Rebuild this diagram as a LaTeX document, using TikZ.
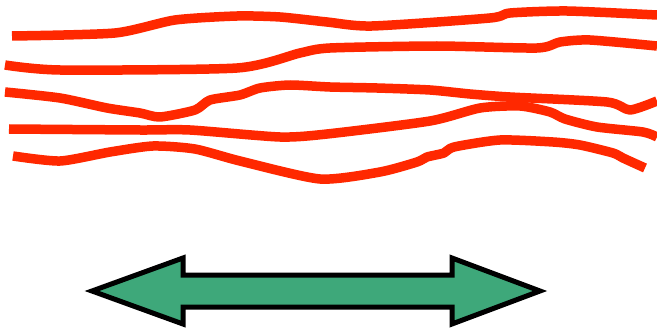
\documentclass[tikz,border=0pt]{standalone}
\definecolor{strokered}{RGB}{255,40,0}
\definecolor{arrowgreen}{RGB}{62,168,122}
\tikzset{
  wave/.style={draw=strokered, line width=9.5pt, line cap=butt, line join=round},
  dblarrow/.style={draw=black, fill=arrowgreen, line width=5pt, line join=miter}
}
\begin{document}
\begin{tikzpicture}[x=1pt,y=-1pt]
\useasboundingbox (0,0) rectangle (657,329);
% line 1
\draw[wave] plot[smooth, tension=0.4] coordinates {(12,36) (115,33) (175,20) (237,16) (280,17) (327,22) (372,26) (490,18) (510,13) (567,11) (657,15)};
% line 2
\draw[wave] plot[smooth, tension=0.4] coordinates {(5,65) (60,70) (237,68) (300,53) (330,48) (437,46) (537,48) (560,42) (590,40) (657,46)};
% line 3
\draw[wave] plot[smooth, tension=0.4] coordinates {(5,92) (60,98) (107,108) (140,113) (160,117) (195,110) (210,100) (240,95) (260,88) (290,85) (330,87) (377,88) (430,90) (470,94) (510,97) (607,102) (630,110) (657,101)};
% line 4
\draw[wave] plot[smooth, tension=0.4] coordinates {(9,129) (140,130) (190,130) (280,137) (327,134) (430,121) (480,108) (520,106) (550,112) (565,119) (597,127) (643,132) (657,137)};
% line 5
\draw[wave] plot[smooth, tension=0.4] coordinates {(13,156) (60,161) (110,152) (153,146) (195,149) (240,161) (320,179) (380,172) (417,162) (427,157) (444,153) (454,147) (500,140) (553,142) (580,145) (613,153) (623,158) (645,168)};
% double arrow
\draw[dblarrow] (92,291) -- (183,258) -- (183,275) -- (452,275) -- (452,258) -- (540,291) -- (452,324) -- (452,307) -- (183,307) -- (183,324) -- cycle;
\end{tikzpicture}
\end{document}
